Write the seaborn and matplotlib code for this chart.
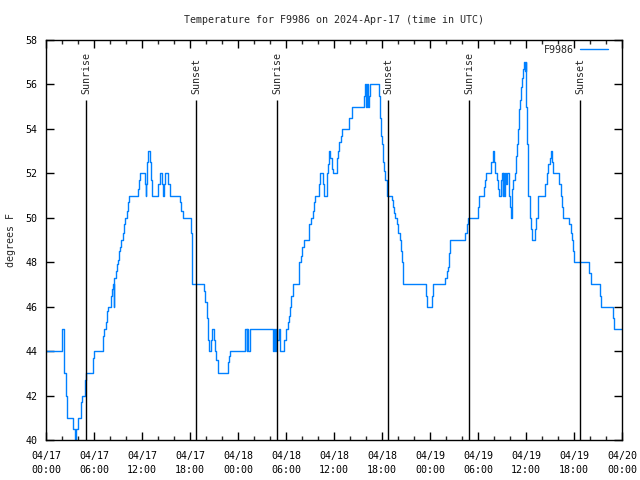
import numpy as np
import pandas as pd
import matplotlib
matplotlib.use('Agg')
import matplotlib.pyplot as plt
import matplotlib.dates as mdates
import seaborn as sns

# step breakpoints: hours after 2024-04-17 00:00 UTC, temperature in F
hours = [0.00, 2.00, 2.30, 2.45, 2.60, 3.42, 3.58, 3.80, 3.95, 4.38, 4.50, 4.88, 5.00, 5.85, 5.95,
         7.10, 7.20, 7.46, 7.58, 7.79, 8.13, 8.25, 8.33, 8.45, 8.55, 8.75, 8.92, 9.04, 9.17, 9.25,
         9.38, 9.58, 9.75, 9.92, 10.08, 10.29, 10.42, 11.54, 11.63, 11.70, 12.37, 12.46, 12.54,
         12.63, 12.79, 13.00, 13.13, 13.29, 14.04, 14.20, 14.54, 14.67, 14.75, 14.87, 15.29, 15.50,
         16.75, 16.88, 17.08, 18.08, 18.20, 18.30, 19.75, 19.88, 20.08, 20.21, 20.38, 20.58, 20.75,
         21.00, 21.13, 21.30, 21.46, 22.79, 22.92, 23.04,
         24.92, 25.08, 25.17, 25.29, 25.54, 28.33, 28.50, 28.67, 28.79, 28.92, 29.08, 29.25, 29.79,
         30.00, 30.20, 30.33, 30.50, 30.63, 30.83, 31.58, 31.67, 31.88, 32.00, 32.20, 32.83, 32.92,
         33.13, 33.33, 33.46, 33.58, 34.08, 34.25, 34.58, 34.71, 35.08, 35.29, 35.42, 35.54, 35.70,
         35.83, 36.33, 36.54, 36.67, 36.88, 36.96, 37.92, 38.20, 39.79, 39.88, 40.00, 40.10, 40.20,
         40.33, 40.50, 41.60, 41.75, 41.88, 41.96, 42.08, 42.17, 42.29, 42.38, 42.58, 43.20, 43.33,
         43.50, 43.63, 43.83, 44.04, 44.25, 44.38, 44.50, 44.60, 44.67, 47.46, 47.67,
         48.20, 48.33, 49.90, 50.08, 50.20, 50.40, 50.54, 52.40, 52.60, 52.70, 53.96, 54.08, 54.17,
         54.80, 54.90, 55.00, 55.60, 55.83, 56.04, 56.17, 56.40, 56.46, 56.58, 56.88, 56.96, 57.08,
         57.17, 57.29, 57.38, 57.50, 57.63, 57.90, 58.00, 58.13, 58.25, 58.40, 58.60, 58.75, 58.90,
         59.04, 59.17, 59.25, 59.38, 59.46, 59.67, 59.80, 59.92, 59.96, 60.04, 60.08, 60.29, 60.50,
         60.63, 60.70, 61.10, 61.30, 61.50, 62.40, 62.58, 62.80, 63.00, 63.13, 63.29, 63.40, 64.17,
         64.33, 64.46, 64.58, 65.40, 65.58, 65.71, 65.92, 66.04, 67.90, 68.08, 69.25, 69.38, 70.83,
         71.04, 72.00]
temps = [44, 45, 43, 42, 41, 40.5, 39.5, 40.5, 41, 41.7, 42, 42.7, 43, 43.7, 44,
         44.7, 45, 45.3, 45.8, 46, 46.5, 46.8, 47, 46, 47.3, 47.6, 47.9, 48.1, 48.5, 48.7,
         49, 49.3, 49.7, 50, 50.3, 50.7, 51, 51.3, 51.7, 52, 51.5, 51, 51.5,
         52.5, 53, 52.5, 51.7, 51, 51.5, 52, 51.5, 51, 51.5, 52, 51.5, 51,
         50.7, 50.3, 50, 49.3, 47.8, 47, 46.7, 46.2, 45.5, 44.5, 44, 44.5, 45,
         44.5, 44, 43.6, 43, 43.5, 43.8, 44,
         45, 44, 45, 44, 45, 44, 45, 44, 45, 44.5, 45, 44, 44.5,
         45, 45.3, 45.6, 46, 46.5, 47, 47.6, 48, 48.3, 48.7, 49, 49.3, 49.7,
         50, 50.3, 50.7, 51, 51.5, 52, 51.5, 51, 52, 52.4, 53, 52.7, 52.2,
         52, 52.7, 53, 53.4, 53.7, 54, 54.5, 55, 55.5, 56, 55, 56, 55,
         55.5, 56, 55.5, 54.5, 53.7, 53.3, 53, 52.5, 52.1, 51.7, 51, 50.8, 50.5,
         50.2, 50, 49.7, 49.3, 49, 48.5, 48, 47.6, 47, 46.5, 46,
         46.5, 47, 47.3, 47.6, 47.8, 48.4, 49, 49.3, 49.7, 50, 50.5, 50.8, 51,
         51.4, 51.7, 52, 52.5, 53, 52.5, 52, 51.7, 51.3, 51, 51.7, 52, 51,
         52, 51, 52, 51.5, 52, 51, 50.5, 50, 51.3, 51.7, 52, 52.8, 53.3,
         54, 54.9, 55.3, 55.9, 56.3, 56.7, 57, 56.6, 57, 55, 53.3, 51, 50,
         49.5, 49, 49.5, 50, 51, 51.5, 52, 52.4, 52.7, 53, 52.5, 52, 51.5,
         51, 50.5, 50, 49.7, 49.3, 49, 48.5, 48, 47.5, 47, 46.5, 46, 45.5,
         45, 45]

sunrise_hours = [5.03, 28.92, 52.92]
sunset_hours = [18.75, 42.79, 66.80]
start = pd.Timestamp('2024-04-17 00:00')

df = pd.DataFrame({'time': start + pd.to_timedelta(hours, unit='h'), 'temp': temps})

sns.set_style('ticks')
plt.rcParams['font.family'] = ['DejaVu Sans Mono', 'DejaVu Sans']
fs = 7.2

fig = plt.figure(figsize=(6.4, 4.8), dpi=100)
ax = fig.add_axes([46 / 640, 40 / 480, 576 / 640, 400 / 480])

sns.lineplot(data=df, x='time', y='temp', ax=ax, drawstyle='steps-post',
             color='#0080ff', linewidth=1.0, label='F9986')

line_top = 55.3
for h in sunrise_hours:
    t = start + pd.Timedelta(hours=h)
    ax.vlines(t, 40, line_top, color='black', linewidth=1.0)
    ax.text(t, line_top + 0.25, 'Sunrise', rotation=90, ha='center', va='bottom', fontsize=fs)
for h in sunset_hours:
    t = start + pd.Timedelta(hours=h)
    ax.vlines(t, 40, line_top, color='black', linewidth=1.0)
    ax.text(t, line_top + 0.25, 'Sunset', rotation=90, ha='center', va='bottom', fontsize=fs)

ax.set_xlim(start, start + pd.Timedelta(hours=72))
ax.set_ylim(40, 58)
ax.set_yticks(np.arange(40, 59, 2))
ax.xaxis.set_major_locator(mdates.HourLocator(byhour=[0, 6, 12, 18]))
ax.xaxis.set_minor_locator(mdates.HourLocator(interval=2))
ax.xaxis.set_major_formatter(mdates.DateFormatter('%m/%d\n%H:%M'))

ax.tick_params(axis='both', which='major', direction='in', length=6, width=1,
               top=True, right=True, labelsize=fs, colors='black')
ax.tick_params(axis='x', which='major', pad=8)
ax.tick_params(axis='y', which='major', pad=6)
ax.tick_params(axis='x', which='minor', direction='in', length=3, width=1, top=True)
for lab in ax.get_xticklabels():
    lab.set_linespacing(1.5)

for s in ax.spines.values():
    s.set_linewidth(1.0)
    s.set_color('black')

ax.set_xlabel('')
ax.set_ylabel('degrees F', fontsize=fs, labelpad=7)
ax.set_title('Temperature for F9986 on 2024-Apr-17 (time in UTC)', fontsize=fs, pad=12)

ax.legend(loc='upper right', bbox_to_anchor=(1 - 10 / 576, 1 - 1 / 400), borderaxespad=0,
          frameon=False, markerfirst=False, fontsize=fs,
          handlelength=2.8, handletextpad=0.6)

fig.savefig('out.png', dpi=100)
